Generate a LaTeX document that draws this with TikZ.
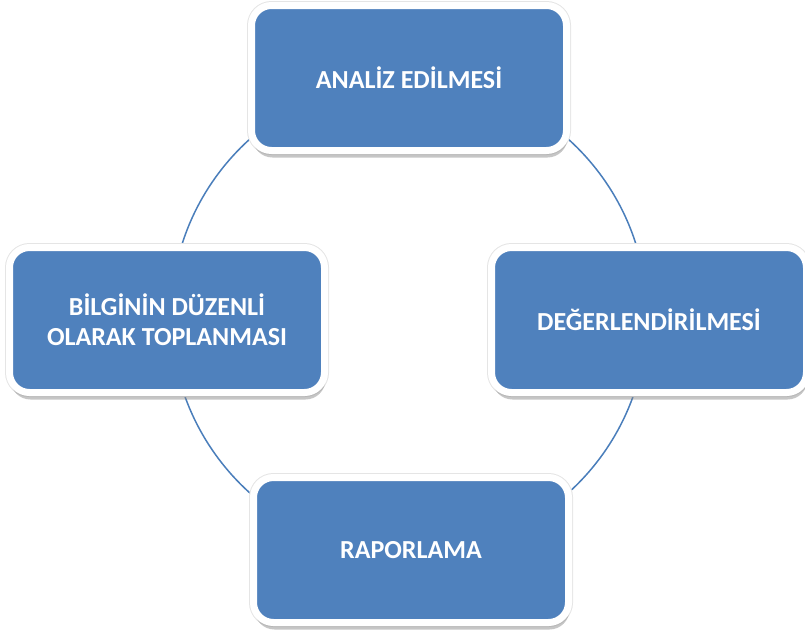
\documentclass[tikz,border=0pt]{standalone}
\usepackage{fontspec}
\setmainfont{Carlito}
\usetikzlibrary{shadows}
\definecolor{boxblue}{HTML}{4F81BD}
\definecolor{lineblue}{HTML}{4A7EBB}
\tikzset{
  stepbox/.style={rectangle, rounded corners=20pt, fill=boxblue, draw=white,
    line width=7pt, minimum width=315pt, minimum height=145pt, align=center,
    text=white, font=\fontsize{26}{30}\selectfont\bfseries,
    preaction={draw=black!10, line width=9pt},
    drop shadow={opacity=0.45, shadow xshift=1pt, shadow yshift=-7pt}},
  ring/.style={draw=lineblue, line width=1.5pt}
}
\begin{document}
\begin{tikzpicture}[x=1pt,y=-1pt]
\useasboundingbox (0,0) rectangle (805,630);
\coordinate (c) at (409,316);
\draw[ring] (c) circle (238);
\node[stepbox] (top) at (409,78) {ANALİZ EDİLMESİ};
\node[stepbox] (right) at (649,320) {DEĞERLENDİRİLMESİ};
\node[stepbox] (bottom) at (411,550) {RAPORLAMA};
\node[stepbox] (left) at (167,320) {BİLGİNİN DÜZENLİ\\OLARAK TOPLANMASI};
\end{tikzpicture}
\end{document}
